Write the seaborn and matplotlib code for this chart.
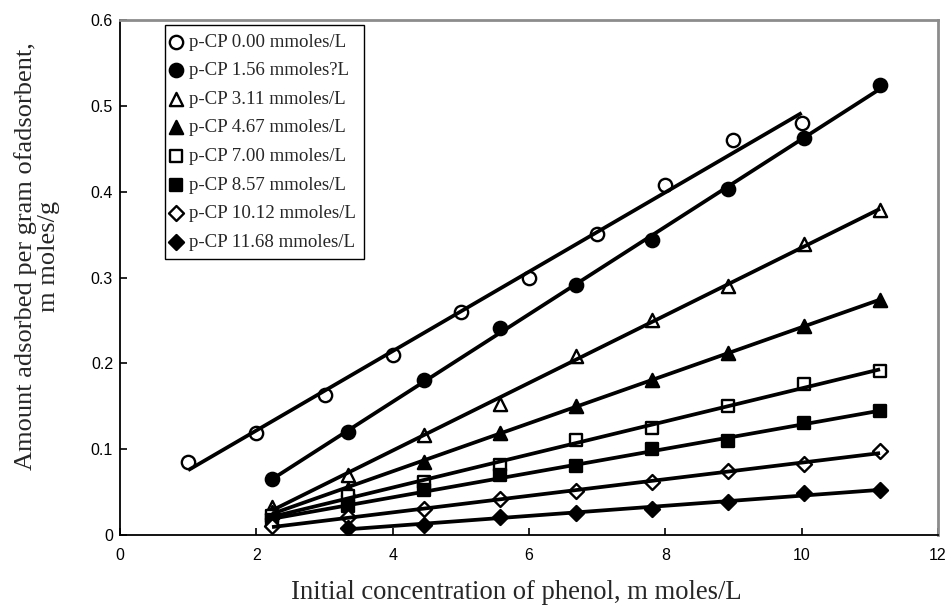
import numpy as np
import pandas as pd
import matplotlib
matplotlib.use("Agg")
import matplotlib.pyplot as plt
import seaborn as sns

# Initial phenol concentration (m moles/L)
x_pcp_000 = [1, 2, 3, 4, 5, 6, 7, 8, 9, 10]
x_common = [2.23, 3.35, 4.46, 5.58, 6.69, 7.80, 8.92, 10.03, 11.15]
x_pcp_1168 = [3.35, 4.46, 5.58, 6.69, 7.80, 8.92, 10.03, 11.15]

# Amount of phenol adsorbed (m moles/g) for each p-CP concentration
y_pcp_000 = [0.085, 0.119, 0.163, 0.210, 0.260, 0.300, 0.351, 0.408, 0.460, 0.480]
y_pcp_156 = [0.065, 0.120, 0.181, 0.241, 0.291, 0.344, 0.403, 0.462, 0.524]
y_pcp_311 = [0.033, 0.070, 0.117, 0.153, 0.208, 0.250, 0.290, 0.339, 0.379]
y_pcp_467 = [0.027, 0.054, 0.085, 0.119, 0.150, 0.181, 0.212, 0.243, 0.274]
y_pcp_700 = [0.022, 0.045, 0.062, 0.082, 0.111, 0.125, 0.150, 0.176, 0.191]
y_pcp_857 = [0.017, 0.034, 0.052, 0.070, 0.080, 0.100, 0.109, 0.130, 0.145]
y_pcp_1012 = [0.010, 0.021, 0.030, 0.042, 0.051, 0.062, 0.074, 0.083, 0.098]
y_pcp_1168 = [0.008, 0.012, 0.021, 0.026, 0.030, 0.039, 0.049, 0.052]

labels = [
    "p-CP 0.00 mmoles/L",
    "p-CP 1.56 mmoles?L",
    "p-CP 3.11 mmoles/L",
    "p-CP 4.67 mmoles/L",
    "p-CP 7.00 mmoles/L",
    "p-CP 8.57 mmoles/L",
    "p-CP 10.12 mmoles/L",
    "p-CP 11.68 mmoles/L",
]

series = [
    (x_pcp_000, y_pcp_000, "o", False),
    (x_common, y_pcp_156, "o", True),
    (x_common, y_pcp_311, "^", False),
    (x_common, y_pcp_467, "^", True),
    (x_common, y_pcp_700, "s", False),
    (x_common, y_pcp_857, "s", True),
    (x_common, y_pcp_1012, "D", False),
    (x_pcp_1168, y_pcp_1168, "D", True),
]

sns.set_style("white")
plt.rcParams["font.family"] = ["Liberation Sans", "DejaVu Sans"]

fig = plt.figure(figsize=(9.52, 6.09), dpi=100)
ax = fig.add_axes([120 / 952, 1 - 535 / 609, 818 / 952, 515 / 609])

marker_sizes = {"o": 92, "^": 90, "s": 80, "D": 58}

handles = []
for (xs, ys, mk, filled), lab in zip(series, labels):
    df = pd.DataFrame({"x": xs, "y": ys})
    sns.scatterplot(
        data=df, x="x", y="y", ax=ax, marker=mk, s=marker_sizes[mk],
        color="black" if filled else "white", edgecolor="black",
        linewidth=1.7, zorder=2, legend=False, label=lab,
    )
    handles.append(ax.collections[-1])
    sns.regplot(
        data=df, x="x", y="y", ax=ax, scatter=False, ci=None, truncate=True,
        line_kws=dict(color="black", lw=2.7, zorder=3, solid_capstyle="butt"),
    )

ax.set_xlim(0, 12)
ax.set_ylim(0, 0.6)
ax.set_xticks(np.arange(0, 13, 2))
ax.set_xticklabels([f"{v:g}" for v in np.arange(0, 13, 2)])
ax.set_yticks(np.arange(0, 0.61, 0.1))
ax.set_yticklabels(["0"] + [f"{v:.1f}" for v in np.arange(0.1, 0.61, 0.1)])
ax.tick_params(direction="in", length=5, width=1.2, labelsize=11.5,
               colors="black", left=True, bottom=True)
ax.tick_params(axis="x", pad=9)
ax.tick_params(axis="y", pad=5)

for side in ("left", "bottom"):
    ax.spines[side].set_color("black")
    ax.spines[side].set_linewidth(1.3)
for side in ("top", "right"):
    ax.spines[side].set_color("#8c8c8c")
    ax.spines[side].set_linewidth(2)

serif = ["Liberation Serif", "DejaVu Serif"]
ax.set_xlabel("Initial concentration of phenol, m moles/L", fontsize=19.2,
              family=serif)
ax.xaxis.set_label_coords((516 - 120) / 818, -0.088)
ax.set_ylabel("Amount adsorbed per gram ofadsorbent,\nm moles/g", fontsize=19,
              family=serif, linespacing=1.05)
ax.yaxis.set_label_coords(-0.073, 0.541)

leg = ax.legend(
    handles=handles, labels=labels, loc="upper left",
    bbox_to_anchor=((165 - 120) / 818, (535 - 25) / 515), borderaxespad=0,
    prop={"family": serif, "size": 13.6}, frameon=True, fancybox=False,
    edgecolor="black", framealpha=1, handlelength=0.3, handletextpad=0.5,
    labelspacing=0.6, borderpad=0.45, markerscale=1.0,
)
leg.get_frame().set_linewidth(1.0)

fig.savefig("out.png", dpi=100)
